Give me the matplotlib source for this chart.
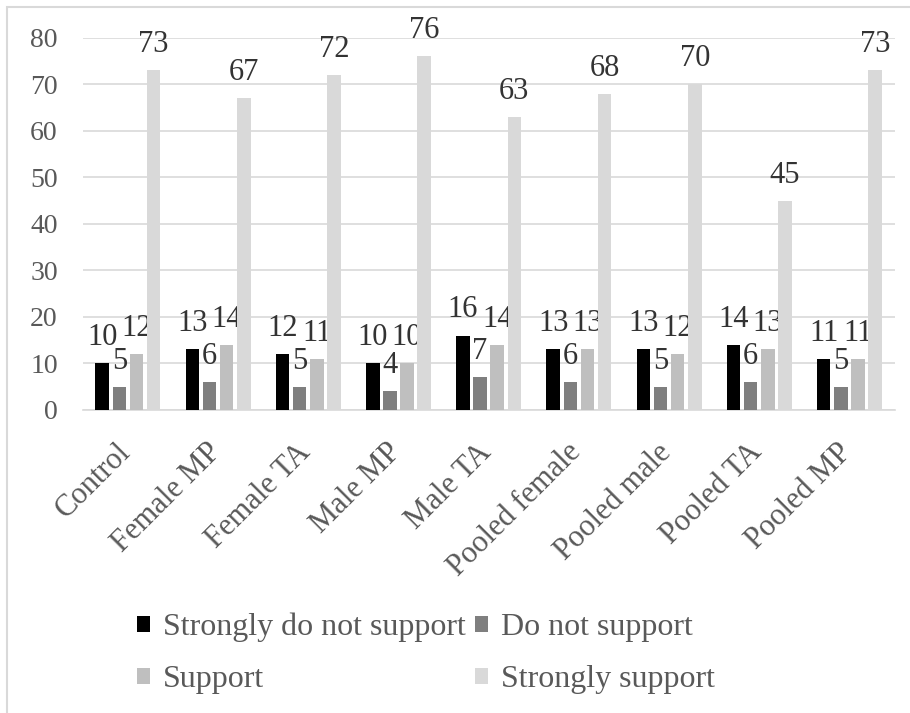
import numpy as np
import matplotlib.pyplot as plt
from matplotlib.patches import Rectangle
from matplotlib.transforms import ScaledTranslation

categories = ['Control', 'Female MP', 'Female TA', 'Male MP', 'Male TA',
              'Pooled female', 'Pooled male', 'Pooled TA', 'Pooled MP']
strongly_not = [10, 13, 12, 10, 16, 13, 13, 14, 11]
not_support = [5, 6, 5, 4, 7, 6, 5, 6, 5]
support = [12, 14, 11, 10, 14, 13, 12, 13, 11]
strongly_support = [73, 67, 72, 76, 63, 68, 70, 45, 73]

series = [('Strongly do not support', strongly_not, '#000000'),
          ('Do not support', not_support, '#7f7f7f'),
          ('Support', support, '#bfbfbf'),
          ('Strongly support', strongly_support, '#d9d9d9')]

FONT = 'Liberation Serif'
plt.rcParams['font.family'] = FONT

fig = plt.figure(figsize=(9.1, 7.13), dpi=100)
ax = fig.add_axes([0.091, 0.425, 0.892, 0.522])

x = np.arange(len(categories))
step = 0.19
width = 0.15
handles = []
for i, (name, vals, col) in enumerate(series):
    pos = x + (i - 1.5) * step
    bars = ax.bar(pos, vals, width, color=col, label=name, zorder=3)
    handles.append(bars)
    ax.bar_label(bars, labels=[str(v) for v in vals], padding=8,
                 fontsize=22, color='#333333', family=FONT)

ax.set_xlim(-0.5, len(categories) - 0.5)
ax.set_ylim(0, 80)
ax.set_yticks(range(0, 81, 10))
ax.yaxis.grid(True, color='#d9d9d9', linewidth=1.2, zorder=0)
for s in ['top', 'right', 'left']:
    ax.spines[s].set_visible(False)
ax.spines['bottom'].set_color('#d9d9d9')
ax.spines['bottom'].set_linewidth(1.2)
ax.tick_params(axis='both', length=0, labelcolor='#595959')
ax.tick_params(axis='y', pad=18, labelsize=20)
ax.tick_params(axis='x', pad=20, labelsize=22)
ax.set_xticks(x)
ax.set_xticklabels(categories, rotation=45, ha='right', rotation_mode='anchor',
                   family=FONT)
# nudge the slanted labels so their ends sit under the group centres
shift = ScaledTranslation(-0.12, 0, fig.dpi_scale_trans)
for lbl in ax.get_xticklabels():
    lbl.set_transform(lbl.get_transform() + shift)

# row-wise legend order: two entries per row
order = [0, 2, 1, 3]
fig.legend([handles[k] for k in order], [series[k][0] for k in order],
           loc='upper left', bbox_to_anchor=(137 / 910, 1 - 613 / 713),
           ncol=2, frameon=False, borderpad=0, borderaxespad=0,
           prop={'family': FONT, 'size': 23}, handlelength=0.4,
           handleheight=0.4, handletextpad=0.4, columnspacing=0.3,
           labelspacing=0.72, labelcolor='#595959')

fig.patches.append(Rectangle((0.008, -0.1), 1.2, 1.09, transform=fig.transFigure,
                             fill=False, edgecolor='#d9d9d9', linewidth=1.5))

fig.savefig('out.png', dpi=100)
